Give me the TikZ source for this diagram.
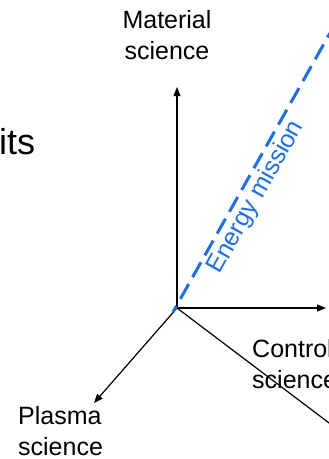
\documentclass[tikz,border=0pt]{standalone}
\usepackage{fontspec}
\setmainfont{Liberation Sans}
\usetikzlibrary{arrows.meta,positioning}
\definecolor{missionblue}{RGB}{25,110,250}

\begin{document}
\begin{tikzpicture}[
    x=1pt, y=-1pt,
    axis/.style={draw, line width=1.2pt, -{Triangle[length=9pt,width=7pt]}},
    axislabel/.style={font=\fontsize{25}{30.5}\selectfont, align=left, inner sep=0pt},
    mission/.style={draw=missionblue, line width=3pt, dash pattern=on 17pt off 8pt, dash phase=10pt}
]
    \useasboundingbox (0,0) rectangle (329,459);
    \clip (0,0) rectangle (329,459);

    % Title fragment
    \node[font=\fontsize{36}{40}\selectfont, inner sep=0pt, anchor=base west] (its) at (-1,154) {its};

    % Axes
    \coordinate (O) at (177,308);
    \coordinate (mattip) at (177,87);
    \coordinate (ctrltip) at (326,308);
    \coordinate (plastip) at (94,403);
    \coordinate (diagend) at (345,435);

    \draw[axis] (O) -- (mattip);
    \draw[axis] (O) -- (ctrltip);
    \draw[axis] (O) -- (plastip);
    \draw[line width=1.2pt] (O) -- (diagend);

    % Labels (base = last line)
    \node[axislabel, align=center, anchor=base] (mat) at (167,59) {Material\\science};
    \node[axislabel, anchor=base west] (plasma) at (18,455) {Plasma\\science};
    \node[axislabel, anchor=base west] (control) at (252,388) {Control\\science};

    % Energy mission
    \coordinate (mstart) at (173,312);
    \coordinate (mend) at (330,33);
    \draw[mission] (mstart) -- (mend)
        node[pos=0.44, sloped, below=3pt, font=\fontsize{25}{30}\selectfont, text=missionblue, inner sep=0pt] (mission) {Energy mission};
\end{tikzpicture}
\end{document}
